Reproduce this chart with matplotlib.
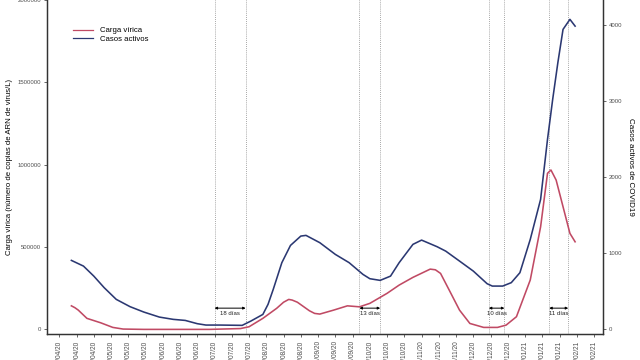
import numpy as np
import pandas as pd
import matplotlib
matplotlib.use("Agg")
import matplotlib.pyplot as plt
import matplotlib.dates as mdates
from matplotlib.lines import Line2D

plt.rcParams["font.family"] = ["Liberation Sans", "DejaVu Sans"]

# carga vírica (copias ARN / L)
carga_fechas = ["15/04/20", "17/04/20", "19/04/20", "24/04/20", "02/05/20", "09/05/20", "15/05/20",
                "27/05/20", "29/06/20", "04/07/20", "22/07/20", "27/07/20", "04/08/20",
                "12/08/20", "16/08/20", "19/08/20", "21/08/20", "24/08/20", "31/08/20", "03/09/20",
                "06/09/20", "14/09/20",
                "22/09/20", "29/09/20", "05/10/20", "15/10/20", "22/10/20", "30/10/20",
                "09/11/20", "12/11/20", "15/11/20", "20/11/20", "26/11/20", "02/12/20", "10/12/20",
                "18/12/20", "23/12/20", "29/12/20", "06/01/21", "12/01/21", "16/01/21",
                "18/01/21", "21/01/21", "25/01/21", "29/01/21", "01/02/21"]
carga = [143000, 132000, 117000, 67000, 40000, 12000, 2000,
         0, 0, 0, 5000, 16000, 67000,
         128000, 165000, 182000, 178000, 165000, 113000, 97000,
         93000, 117000,
         143000, 137000, 158000, 219000, 269000, 316000,
         366000, 362000, 340000, 239000, 117000, 36000, 12000,
         12000, 26000, 77000, 300000, 623000, 948000,
         968000, 907000, 745000, 583000, 532000]

# casos activos
casos_fechas = ["15/04/20", "22/04/20", "28/04/20", "04/05/20", "11/05/20", "19/05/20",
                "27/05/20", "05/06/20", "13/06/20", "20/06/20", "27/06/20", "02/07/20",
                "10/07/20", "23/07/20", "28/07/20", "04/08/20", "07/08/20", "10/08/20", "15/08/20",
                "20/08/20", "26/08/20", "29/08/20", "06/09/20", "15/09/20", "23/09/20",
                "01/10/20", "05/10/20", "11/10/20", "17/10/20", "22/10/20", "30/10/20",
                "04/11/20", "13/11/20", "18/11/20", "26/11/20", "04/12/20", "12/12/20",
                "15/12/20", "21/12/20", "26/12/20", "31/12/20", "06/01/21", "12/01/21",
                "16/01/21", "19/01/21", "22/01/21", "25/01/21", "29/01/21", "01/02/21"]
casos = [908, 833, 701, 549, 395, 299,
         228, 162, 132, 118, 75, 57,
         57, 53, 109, 197, 330, 526, 878,
         1105, 1228, 1237, 1141, 987, 878,
         724, 667, 645, 701, 878, 1119,
         1175, 1088, 1030, 899, 767, 601,
         570, 570, 615, 746, 1184, 1711,
         2500, 3027, 3510, 3948, 4080, 3991]

# desfases marcados
desfase_inicio = ["07/07/20", "29/09/20", "13/12/20", "17/01/21"]
desfase_fin = ["25/07/20", "11/10/20", "22/12/20", "28/01/21"]
desfase_txt = ["18 días", "13 días", "10 días", "11 días"]

rojo = "#c04a64"
azul = "#2b3872"
gris = "#4d4d4d"

cf = pd.to_datetime(carga_fechas, format="%d/%m/%y")
af = pd.to_datetime(casos_fechas, format="%d/%m/%y")
d0 = pd.to_datetime(desfase_inicio, format="%d/%m/%y")
d1 = pd.to_datetime(desfase_fin, format="%d/%m/%y")

escala = 461.5
y0, y1 = -28500, 2000500

fig = plt.figure(figsize=(6.4, 3.6), dpi=100)
ax = fig.add_axes([0.073, 0.072, 0.869, 0.928])
ax2 = ax.twinx()

ax.plot(cf, carga, color=rojo, lw=1.15, zorder=3, solid_joinstyle="round")
ax2.plot(af, casos, color=azul, lw=1.15, zorder=3, solid_joinstyle="round")

for a, b, t in zip(d0, d1, desfase_txt):
    for d in (a, b):
        ax.axvline(d, color="#8a8a8a", ls=(0, (1, 1.5)), lw=0.6, zorder=1)
    ax.annotate("", xy=(a, 129000), xytext=(b, 129000),
                arrowprops=dict(arrowstyle="<|-|>", color="black", lw=0.7,
                                mutation_scale=3.5, shrinkA=0, shrinkB=0))
    ax.text(a + (b - a) / 2, 98000, t, ha="center", va="center", fontsize=4.3, color="#222222")

inicio = pd.Timestamp("2020-04-08")
ax.set_xlim(inicio - pd.Timedelta(days=7.3), inicio + pd.Timedelta(days=315.1))
ax.set_xticks(pd.date_range("2020-04-08", "2021-02-12", freq="10D"))
ax.xaxis.set_major_formatter(mdates.DateFormatter("%d/%m/%y"))
ax.set_ylim(y0, y1)
ax2.set_ylim(y0 / escala, y1 / escala)
ax.set_yticks([0, 500000, 1000000, 1500000, 2000000])
ax.set_yticklabels(["0", "500000", "1000000", "1500000", "2000000"])
ax2.set_yticks([0, 1000, 2000, 3000, 4000])

ax.spines["top"].set_visible(False)
ax2.spines["top"].set_visible(False)
for a_ in (ax, ax2):
    for s in ("left", "right", "bottom"):
        a_.spines[s].set_color("#333333")
        a_.spines[s].set_linewidth(0.9)
ax.tick_params(axis="x", labelsize=4.7, rotation=90, colors=gris, length=2.5, width=0.6, pad=2)
ax.tick_params(axis="y", labelsize=4.3, colors=gris, length=2.5, width=0.6, pad=1.5)
ax2.tick_params(axis="y", labelsize=4.3, colors=gris, length=2.5, width=0.6, pad=1.5)
for lb in ax.get_xticklabels():
    lb.set_va("top")
    lb.set_ha("center")

ax.set_ylabel("Carga vírica (número de copias de ARN de virus/L)", fontsize=5.6, labelpad=3)
ax2.set_ylabel("Casos activos de COVID19", fontsize=5.8, rotation=270, labelpad=9)

h = [Line2D([], [], color=rojo, lw=0.9), Line2D([], [], color=azul, lw=0.9)]
ax.legend(h, ["Carga vírica", "Casos activos"], loc="upper left", bbox_to_anchor=(0.035, 0.94),
          frameon=False, fontsize=5.6, handlelength=2.6, labelspacing=0.15, handletextpad=0.9)

fig.savefig("out.png", dpi=100)
